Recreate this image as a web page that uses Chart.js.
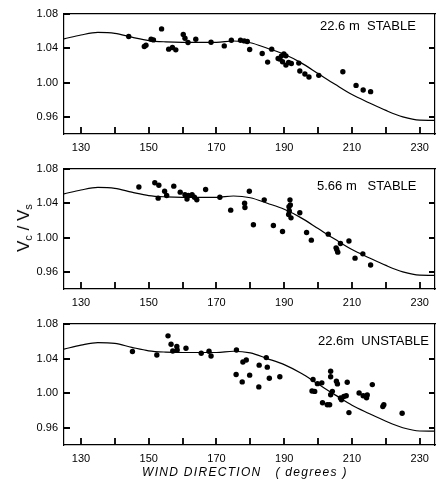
<!DOCTYPE html>
<html>
<head>
<meta charset="utf-8">
<script src="https://cdn.jsdelivr.net/npm/chart.js@4/dist/chart.umd.min.js"></script>
<style>
  html, body { margin: 0; padding: 0; background: #fff; }
  #wrap { position: relative; width: 439px; height: 481px; overflow: hidden; background: #fff; }
  canvas { position: absolute; left: 0; }
  .lbl { position: absolute; font-family: "Liberation Sans", Arial, sans-serif; font-size: 13px; color: #000; white-space: pre; line-height: 15px; }
  #xtitle { position: absolute; left: 142px; top: 465px; font-family: "Liberation Sans", Arial, sans-serif; font-style: italic; font-size: 12px; letter-spacing: 1.3px; white-space: pre; line-height: 14px; }
  #ytitle { position: absolute; left: 26px; top: 228px; transform: translate(-50%, -50%) rotate(-90deg); font-family: "Liberation Sans", Arial, sans-serif; font-size: 17px; white-space: pre; line-height: 18px; }
  #ytitle sub { font-size: 11px; vertical-align: -3px; }
</style>
</head>
<body>
<div id="wrap">
  <canvas id="c1"></canvas>
  <canvas id="c2"></canvas>
  <canvas id="c3"></canvas>
  <div class="lbl" style="left:320px; top:18px;">22.6 m  STABLE</div>
  <div class="lbl" style="left:317px; top:178px;">5.66 m   STABLE</div>
  <div class="lbl" style="left:318px; top:333px;">22.6m  UNSTABLE</div>
  <div id="xtitle">WIND DIRECTION   ( degrees )</div>
  <div id="ytitle">V<sub>c</sub> / V<sub>s</sub></div>
</div>
<script>
// ---- data ----
const xTicks = [130, 140, 150, 160, 170, 180, 190, 200, 210, 220, 230];
const xLabelled = [130, 150, 170, 190, 210, 230];
const yTicks = [0.96, 1.00, 1.04, 1.08];
const yRightTicks = [0.96, 1.00, 1.04];

// model curve (same in all three panels)
const curveX = [125, 130, 135, 140, 145, 150, 155, 160, 165, 170, 175, 180, 185, 190, 195, 200, 205, 210, 215, 220, 225, 230, 234.5];
const curveY = [1.051, 1.0555, 1.0585, 1.0575, 1.053, 1.049, 1.0475, 1.047, 1.047, 1.047, 1.0485, 1.0465, 1.040, 1.033, 1.023, 1.0105, 0.998, 0.986, 0.9765, 0.9675, 0.960, 0.9562, 0.956];

// panel 1: 22.6 m STABLE
const p1Dir = [144.1, 148.7, 149.2, 150.7, 151.4, 153.8, 155.9, 157.0, 158.0, 160.2, 160.7, 161.6, 163.9, 168.4, 172.3, 174.4, 177.1, 178.2, 179.1, 179.8, 183.5, 185.1, 186.3, 188.2, 188.7, 189.2, 189.9, 190.5, 189.5, 190.5, 191.3, 192.1, 194.3, 194.6, 196.1, 197.3, 200.2, 207.3, 211.2, 213.3, 215.5];
const p1Val = [1.0537, 1.042, 1.0436, 1.0506, 1.0498, 1.0626, 1.039, 1.0409, 1.0382, 1.056, 1.0517, 1.0467, 1.0506, 1.0471, 1.0428, 1.0494, 1.0494, 1.0486, 1.0479, 1.0385, 1.0339, 1.0239, 1.039, 1.0281, 1.0274, 1.0312, 1.0335, 1.0312, 1.0243, 1.0204, 1.0235, 1.0223, 1.0227, 1.0135, 1.010, 1.0065, 1.0084, 1.0127, 0.9967, 0.9914, 0.9894];

// panel 2: 5.66 m STABLE
const p2Dir = [147.1, 151.8, 153.0, 152.8, 154.7, 155.3, 157.4, 159.3, 160.7, 161.3, 161.7, 162.8, 163.5, 164.2, 166.8, 171.0, 174.2, 178.3, 178.4, 179.7, 180.9, 184.1, 186.8, 189.5, 191.7, 191.8, 191.4, 191.5, 191.3, 192.0, 194.6, 196.6, 198.0, 203.0, 206.6, 205.3, 205.8, 205.5, 209.1, 210.9, 213.2, 215.5];
const p2Val = [1.059, 1.064, 1.061, 1.046, 1.054, 1.049, 1.060, 1.053, 1.050, 1.045, 1.049, 1.050, 1.047, 1.044, 1.056, 1.047, 1.032, 1.040, 1.035, 1.054, 1.015, 1.044, 1.014, 1.007, 1.044, 1.038, 1.036, 1.031, 1.027, 1.023, 1.029, 1.006, 0.997, 1.004, 0.993, 0.988, 0.983, 0.986, 0.996, 0.976, 0.981, 0.968];

// panel 3: 22.6 m UNSTABLE
const p3Dir = [145.2, 152.4, 155.7, 156.6, 157.1, 158.3, 158.4, 161.0, 165.5, 167.8, 168.4, 175.9, 175.8, 177.6, 177.8, 178.8, 179.8, 182.6, 182.5, 184.7, 185.0, 185.6, 188.7, 198.5, 198.2, 199.0, 199.8, 201.1, 201.3, 202.7, 203.4, 203.7, 203.7, 204.2, 203.7, 205.4, 205.7, 206.9, 206.6, 207.6, 208.3, 208.6, 209.1, 212.1, 213.3, 214.5, 214.3, 216.0, 219.1, 219.4, 224.8];
const p3Val = [1.0481, 1.0441, 1.0663, 1.0566, 1.0488, 1.0539, 1.050, 1.052, 1.0461, 1.0484, 1.043, 1.050, 1.0216, 1.013, 1.036, 1.0383, 1.0208, 1.0324, 1.0072, 1.0411, 1.0301, 1.0173, 1.0189, 1.0157, 1.0025, 1.002, 1.011, 1.0119, 0.9889, 0.9865, 0.9865, 1.0254, 1.0189, 1.0021, 0.9982, 1.0137, 1.0107, 0.9924, 0.9943, 0.9962, 0.997, 1.0126, 0.9775, 1.0002, 0.997, 0.9978, 0.9947, 1.0099, 0.9845, 0.9865, 0.9768];

const X_MIN = 125, X_MAX = 234.5, Y_MIN = 0.94, Y_MAX = 1.08;

function pts(xs, ys) { return xs.map((x, i) => ({ x: x, y: ys[i] })); }

const FONT = { family: '"Liberation Sans", Arial, sans-serif', size: 11 };

// inward tick marks on the bottom, left and right axes, placed through the chart's scales
const innerTicks = {
  id: 'innerTicks',
  afterDraw(chart) {
    const { ctx, chartArea, scales } = chart;
    ctx.save();
    ctx.strokeStyle = '#000';
    ctx.lineWidth = 1.8;
    ctx.beginPath();
    xTicks.forEach(v => {
      const px = Math.round(scales.x.getPixelForValue(v));
      ctx.moveTo(px, chartArea.bottom);
      ctx.lineTo(px, chartArea.bottom - 7);
    });
    yRightTicks.forEach(v => {
      const py = Math.round(scales.y.getPixelForValue(v));
      ctx.moveTo(chartArea.right, py);
      ctx.lineTo(chartArea.right - 6, py);
    });
    yTicks.forEach(v => {
      const py = Math.round(scales.y.getPixelForValue(v));
      ctx.moveTo(chartArea.left, py);
      ctx.lineTo(chartArea.left + 6, py);
    });
    ctx.stroke();
    ctx.restore();
  }
};

function makePanel(id, top, padTop, plotH, dirs, vals) {
  const xH = 24;
  const h = padTop + plotH + xH;
  const cv = document.getElementById(id);
  cv.width = 439; cv.height = h;
  cv.style.top = top + 'px';
  cv.style.width = '439px'; cv.style.height = h + 'px';
  return new Chart(cv, {
    type: 'scatter',
    data: {
      datasets: [
        {
          data: pts(curveX, curveY),
          showLine: true,
          borderColor: '#000',
          borderWidth: 1.2,
          pointRadius: 0,
          tension: 0.4,
          cubicInterpolationMode: 'monotone',
          order: 2
        },
        {
          data: pts(dirs, vals),
          showLine: false,
          backgroundColor: '#000',
          borderColor: '#000',
          pointRadius: 2.7,
          borderWidth: 0,
          order: 1
        }
      ]
    },
    options: {
      responsive: false,
      animation: false,
      devicePixelRatio: 1,
      layout: { padding: { top: padTop, right: 1, left: 0, bottom: 0 } },
      plugins: { legend: { display: false }, tooltip: { enabled: false } },
      scales: {
        x: {
          type: 'linear', position: 'bottom', min: X_MIN, max: X_MAX,
          afterBuildTicks: s => { s.ticks = xTicks.map(v => ({ value: v })); },
          afterFit: s => { s.height = xH; },
          grid: { drawOnChartArea: false, drawTicks: false },
          border: { display: true, color: '#000', width: 1.2 },
          ticks: {
            padding: 7, color: '#000', font: FONT, maxRotation: 0, autoSkip: false,
            callback: v => xLabelled.includes(v) ? String(v) : ''
          }
        },
        xTop: {
          type: 'linear', position: 'top', min: X_MIN, max: X_MAX,
          afterFit: s => { s.height = 0; },
          grid: { drawOnChartArea: false, drawTicks: false },
          border: { display: true, color: '#000', width: 1.2 },
          ticks: { display: false }
        },
        y: {
          type: 'linear', position: 'left', min: Y_MIN, max: Y_MAX,
          afterBuildTicks: s => { s.ticks = yTicks.map(v => ({ value: v })); },
          afterFit: s => { s.width = 64; },
          grid: { drawOnChartArea: false, drawTicks: false },
          border: { display: true, color: '#000', width: 1.2 },
          ticks: { padding: 6, color: '#000', font: FONT, callback: v => Number(v).toFixed(2) }
        },
        yRight: {
          type: 'linear', position: 'right', min: Y_MIN, max: Y_MAX,
          afterFit: s => { s.width = 0; },
          grid: { drawOnChartArea: false, drawTicks: false },
          border: { display: true, color: '#000', width: 1.2 },
          ticks: { display: false }
        }
      }
    },
    plugins: [innerTicks]
  });
}

makePanel('c1', 0, 14, 120, p1Dir, p1Val);
makePanel('c2', 156, 13, 120, p2Dir, p2Val);
makePanel('c3', 311, 13, 121, p3Dir, p3Val);
</script>
</body>
</html>
